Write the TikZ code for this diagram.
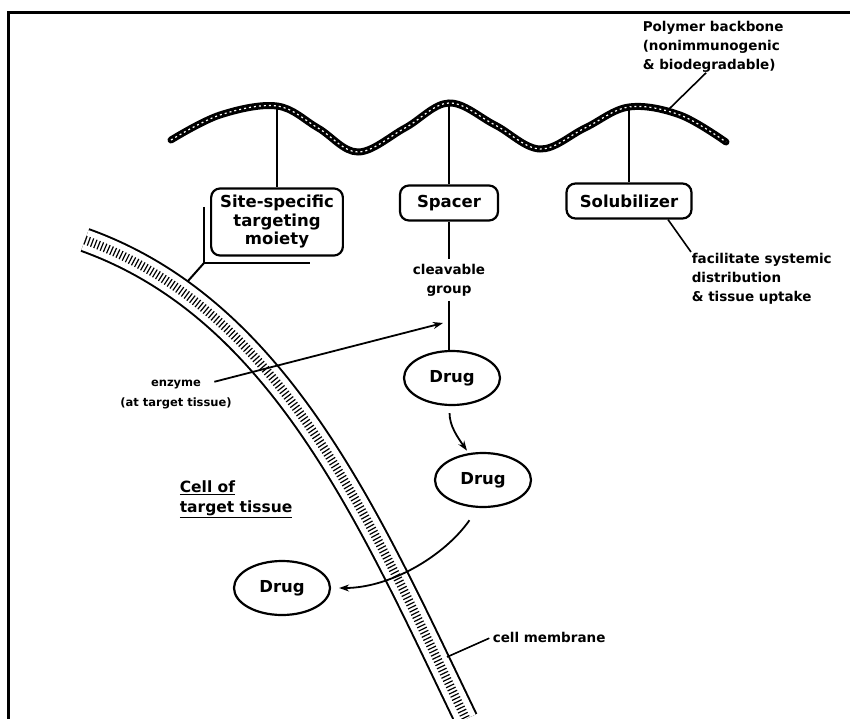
\documentclass[tikz,border=0pt]{standalone}
\usepackage{fontspec}
\setmainfont{DejaVu Sans}
\usetikzlibrary{arrows.meta,shapes.geometric,positioning}

\begin{document}
\begin{tikzpicture}[x=1pt,y=-1pt,line width=1.6pt,>={Stealth[length=10pt,width=7pt]},
  box/.style={draw,line width=2.2pt,rounded corners=9pt,inner xsep=9pt,inner ysep=7pt,
    minimum height=35pt,align=center,font=\fontsize{16.5}{18.5}\selectfont\bfseries},
  drug/.style={draw,ellipse,line width=2.2pt,minimum width=96pt,minimum height=54pt,
    inner sep=0pt,font=\fontsize{16.5}{18.5}\selectfont\bfseries},
  note/.style={inner sep=0pt,align=left,font=\fontsize{13.5}{19}\selectfont\bfseries}]
  \useasboundingbox (0,0) rectangle (850,719);
  % frame
  \draw[line width=3pt] (8,719) -- (8,13) -- (850,13);

  % cell membrane
  \draw[line width=25pt] (85,240) .. controls (280,310) and (370,520) .. (466,719);
  \draw[white,line width=21pt] (85,240) .. controls (280,310) and (370,520) .. (466,719);
  \draw[line width=9pt,dash pattern=on 1.2pt off 2.3pt] (85,240) .. controls (280,310) and (370,520) .. (466,719);

  % polymer backbone
  \draw[line width=7pt,line cap=round] plot[smooth,tension=0.6] coordinates {(171,140) (220,115) (277,106)
    (318,128) (358,152) (405,128) (449,103) (495,125) (540,149) (585,128) (629,107) (680,115) (726,142)};
  \draw[white,line width=1.2pt,dash pattern=on 2pt off 3pt] plot[smooth,tension=0.6] coordinates {(171,140) (220,115) (277,106)
    (318,128) (358,152) (405,128) (449,103) (495,125) (540,149) (585,128) (629,107) (680,115) (726,142)};
  \coordinate (p1) at (277,107);
  \coordinate (p2) at (449,104);
  \coordinate (p3) at (629,107);
  \coordinate (bb) at (666,112);

  \node[note,anchor=north west] (poly) at (642,20) {Polymer backbone\\(nonimmunogenic\\\& biodegradable)};
  \draw ([xshift=-7pt]poly.south) -- (bb);

  % side groups
  \node[box] (site) at (277,222) {Site-specific\\targeting\\moiety};
  \node[box,minimum width=98pt] (spacer) at (449,203) {Spacer};
  \node[box,minimum width=125pt] (solub) at (629,201) {Solubilizer};
  \draw (p1) -- (site);
  \draw (p2) -- (spacer);
  \draw (p3) -- (solub);

  \coordinate (hinge) at (204,263);
  \coordinate (moor) at (188,281);
  \draw[line width=2pt] (204,207) -- (hinge) -- (310,263);
  \draw[line width=2pt] (hinge) -- (moor);

  \node[note,anchor=north west] (facil) at (691,252) {facilitate systemic\\distribution\\\& tissue uptake};
  \draw ([xshift=39pt]solub.south) -- (facil.north west);

  \node[note,align=center,inner ysep=4pt] (cleave) at (449,280) {cleavable\\group};
  \node[drug] (drug1) at (452,378) {Drug};
  \node[drug] (drug2) at (483,480) {Drug};
  \node[drug] (drug3) at (282,588) {Drug};
  \draw (spacer) -- (cleave);
  \draw (cleave.south) -- (cleave.south |- drug1.north);

  % enzyme cut
  \node[note,font=\fontsize{11.5}{18}\selectfont\bfseries] (enz) at (176,385) {enzyme};
  \node[note,font=\fontsize{11.5}{18}\selectfont\bfseries] (enzsite) at (176,403) {(at target tissue)};
  \coordinate (cut) at (443,323);
  \draw[->,line width=1.8pt,shorten <=13pt] (enz.east) -- (cut);

  \draw[->,line width=1.8pt,shorten <=7pt,shorten >=3pt] (drug1.-95) to[out=-90,in=125] (drug2.118);
  \draw[->,line width=1.8pt,shorten <=15pt,shorten >=8pt] (drug2.-100) to[out=-125,in=0,looseness=0.9] (drug3.east);

  \node[note,anchor=north west,font=\fontsize{15.5}{20}\selectfont\bfseries] (cell) at (179,480) {\underline{Cell of}\\\underline{target tissue}};

  \node[note,anchor=west] (memtext) at (492,637) {cell membrane};
  \coordinate (mem2) at (447,657);
  \draw[shorten <=3pt] (memtext.west) -- (mem2);
\end{tikzpicture}
\end{document}
